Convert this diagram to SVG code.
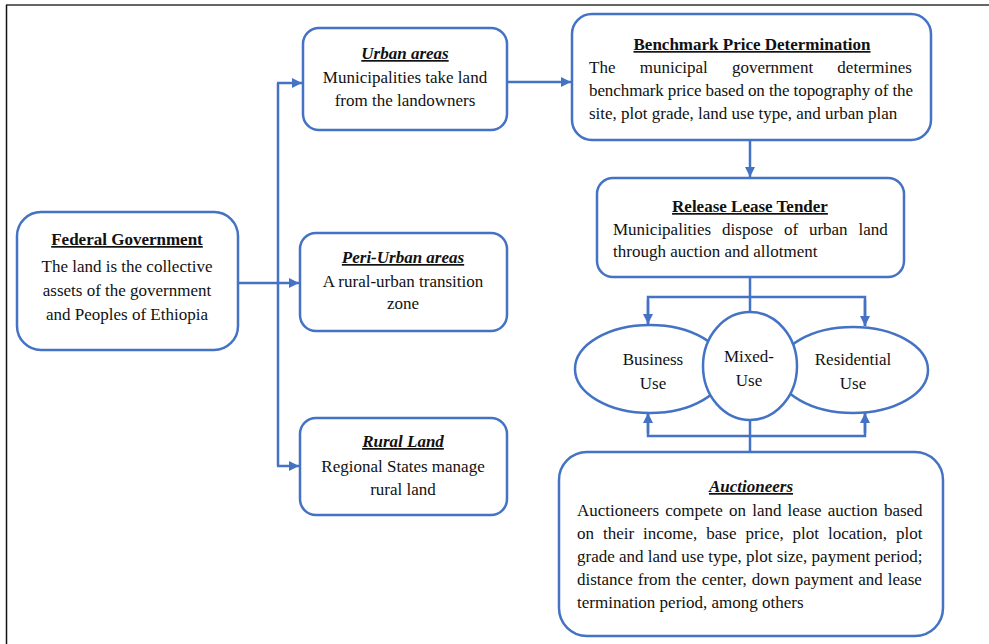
<svg xmlns="http://www.w3.org/2000/svg" width="989" height="644" viewBox="0 0 989 644">
<style>
.box{fill:#fff;stroke:#4472C4;stroke-width:2.5}
.ell{fill:#fff;stroke:#4472C4;stroke-width:2.5}
.ln{fill:none;stroke:#4472C4;stroke-width:2.5}
text{font-family:"Liberation Serif","Times New Roman",serif;font-size:17px;fill:#111}
.c{text-anchor:middle}
.t{font-weight:bold;text-decoration:underline}
.ti{font-weight:bold;font-style:italic;text-decoration:underline}
</style>
<defs>
<marker id="ah" viewBox="0 0 10 10" refX="10" refY="5" markerWidth="4" markerHeight="4" orient="auto" markerUnits="strokeWidth">
<path d="M0,0 L10,5 L0,10 z" fill="#4472C4"/>
</marker>
</defs>
<rect width="989" height="644" fill="#fff"/>
<g id="frame">
<line x1="6" y1="5" x2="989" y2="5" stroke="#666" stroke-width="2"/>
<line x1="6.5" y1="5" x2="6.5" y2="644" stroke="#111" stroke-width="1.5"/>
</g>
<g id="connectors">
<line class="ln" x1="238" y1="283" x2="299" y2="283" marker-end="url(#ah)"/>
<line class="ln" x1="278" y1="83" x2="278" y2="466"/>
<line class="ln" x1="277" y1="83" x2="302" y2="83" marker-end="url(#ah)"/>
<line class="ln" x1="277" y1="466" x2="299" y2="466" marker-end="url(#ah)"/>
<line class="ln" x1="507" y1="82" x2="571" y2="82" marker-end="url(#ah)"/>
<line class="ln" x1="750" y1="140" x2="750" y2="177" marker-end="url(#ah)"/>
<line class="ln" x1="750" y1="277" x2="750" y2="313"/>
<polyline class="ln" points="648,325 648,297 865,297 865,326" />
<line class="ln" x1="648" y1="300" x2="648" y2="324" marker-end="url(#ah)"/>
<line class="ln" x1="865" y1="300" x2="865" y2="326" marker-end="url(#ah)"/>
<line class="ln" x1="750" y1="420" x2="750" y2="452"/>
<polyline class="ln" points="648,413 648,436 865,436 865,413"/>
<line class="ln" x1="648" y1="433" x2="648" y2="413" marker-end="url(#ah)"/>
<line class="ln" x1="865" y1="433" x2="865" y2="413" marker-end="url(#ah)"/>
</g>
<g id="federal">
<rect class="box" x="17" y="212" width="221" height="138" rx="24"/>
<text class="c t" x="127" y="245">Federal Government</text>
<text class="c" x="127" y="272">The land is the collective</text>
<text class="c" x="127" y="296">assets of the government</text>
<text class="c" x="127" y="320">and Peoples of Ethiopia</text>
</g>
<g id="urban">
<rect class="box" x="303" y="28" width="204" height="102" rx="16"/>
<text class="c ti" x="405" y="59">Urban areas</text>
<text class="c" x="405" y="83">Municipalities take land</text>
<text class="c" x="405" y="106">from the landowners</text>
</g>
<g id="periurban">
<rect class="box" x="300" y="233" width="207" height="98" rx="16"/>
<text class="c ti" x="403" y="263">Peri-Urban areas</text>
<text class="c" x="403" y="287">A rural-urban transition</text>
<text class="c" x="403" y="309">zone</text>
</g>
<g id="rural">
<rect class="box" x="300" y="418" width="207" height="97" rx="16"/>
<text class="c ti" x="403" y="447">Rural Land</text>
<text class="c" x="403" y="472">Regional States manage</text>
<text class="c" x="403" y="495">rural land</text>
</g>
<g id="benchmark">
<rect class="box" x="572" y="14" width="359" height="126" rx="20"/>
<text class="c t" x="752" y="50">Benchmark Price Determination</text>
<text x="589" y="73" word-spacing="20">The municipal government determines</text>
<text x="589" y="96" textLength="324" lengthAdjust="spacing">benchmark price based on the topography of the</text>
<text x="589" y="119">site, plot grade, land use type, and urban plan</text>
</g>
<g id="release">
<rect class="box" x="597" y="178" width="307" height="99" rx="16"/>
<text class="c t" x="750" y="212">Release Lease Tender</text>
<text x="613" y="235" word-spacing="6.6">Municipalities dispose of urban land</text>
<text x="613" y="257">through auction and allotment</text>
</g>
<g id="business">
<ellipse class="ell" cx="650" cy="369" rx="75" ry="44"/>
<text class="c" x="653" y="365">Business</text>
<text class="c" x="653" y="389">Use</text>
</g>
<g id="residential">
<ellipse class="ell" cx="853" cy="370" rx="75" ry="43"/>
<text class="c" x="853" y="365">Residential</text>
<text class="c" x="853" y="389">Use</text>
</g>
<g id="mixed">
<ellipse class="ell" cx="750" cy="366" rx="47" ry="54"/>
<text class="c" x="749" y="362">Mixed-</text>
<text class="c" x="749" y="386">Use</text>
</g>
<g id="auctioneers">
<rect class="box" x="559" y="452" width="384" height="184" rx="28"/>
<text class="c ti" x="751" y="492">Auctioneers</text>
<text x="577" y="516" word-spacing="1.9">Auctioneers compete on land lease auction based</text>
<text x="577" y="539" word-spacing="4.7">on their income, base price, plot location, plot</text>
<text x="577" y="562">grade and land use type, plot size, payment period;</text>
<text x="577" y="585" word-spacing="0.8">distance from the center, down payment and lease</text>
<text x="577" y="608">termination period, among others</text>
</g>
</svg>
